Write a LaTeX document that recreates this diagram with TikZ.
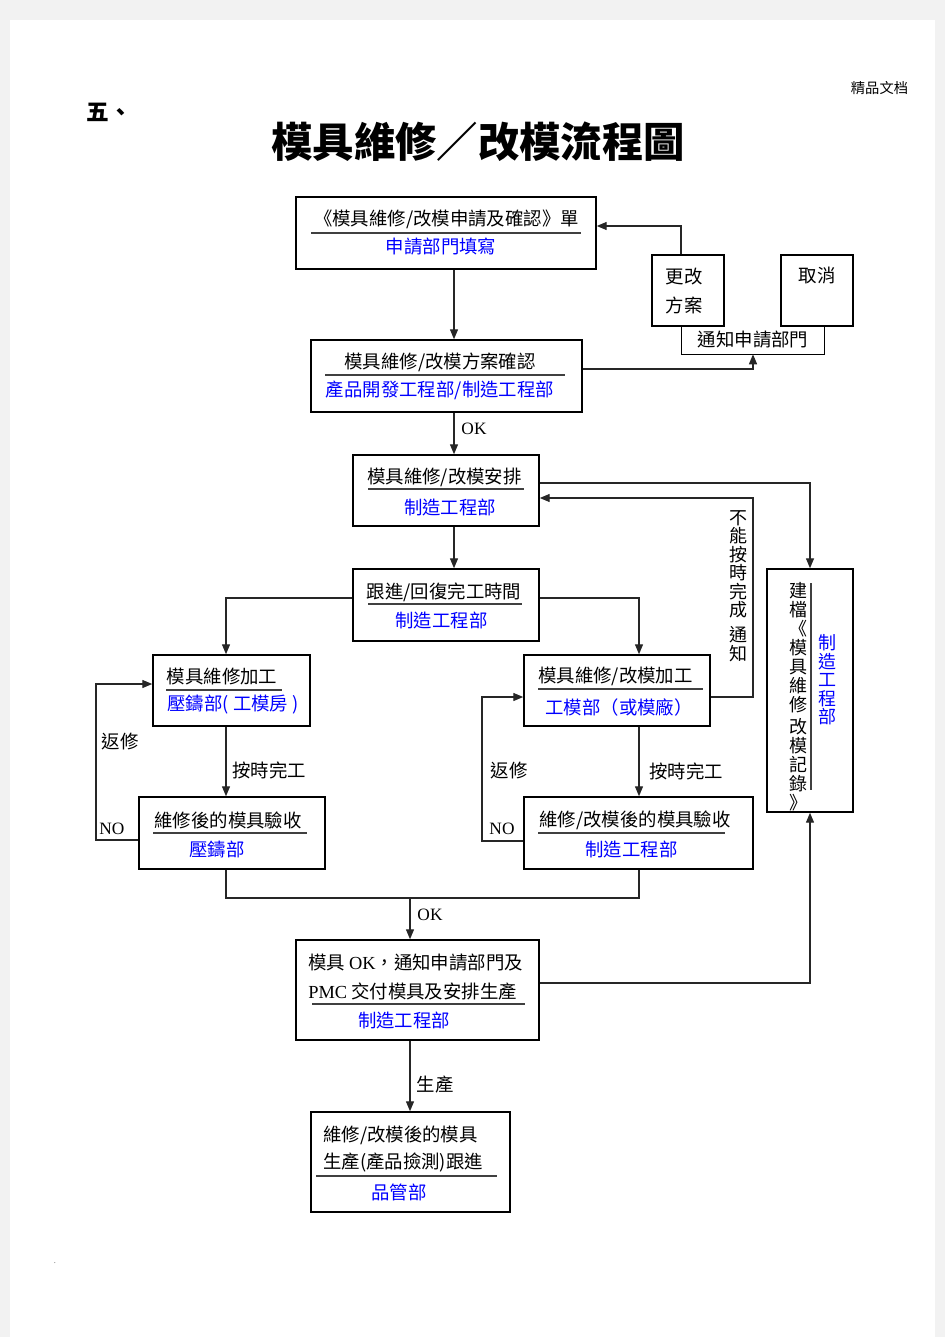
\documentclass[tikz,border=0pt]{standalone}
\usepackage{fontspec}
\setmainfont{Liberation Serif}
\newfontfamily\cjk{Noto Sans CJK TC}
\usetikzlibrary{arrows.meta}
\definecolor{deptblue}{RGB}{0,0,255}
\def\pu{0.75pt}
\tikzset{
	box/.style={draw=black, line width=1.1pt, inner sep=0pt},
	ttl/.style={font=\cjk\fontsize{13.8pt}{16pt}\selectfont, inner sep=0pt},
	dept/.style={ttl, text=deptblue},
	vtxt/.style={ttl, align=center},
	lbl/.style={font=\fontsize{13pt}{15pt}\selectfont, inner sep=0pt},
	uline/.style={draw=black!75, line width=0.9pt},
	conn/.style={draw=black!85, line width=1pt},
	arr/.style={conn, -{Triangle[length=7.5pt, width=6pt]}},
}

\begin{document}
\begin{tikzpicture}[x=0.75pt, y=-0.75pt]
			%%%%% START %%%%%
			\useasboundingbox (0,0) rectangle (945,1337);
			\fill[black!5] (0,0) rectangle (945,1337);
			\fill[white] (10,20) rectangle (935,1337);
			
			% header
			\node[inner sep=0pt, font=\cjk\fontsize{10.7pt}{12pt}\selectfont] (tag) at (879.5,88) {精品文档};
			\node[inner sep=0pt, font=\cjk\bfseries\fontsize{17pt}{19pt}\selectfont] (num) at (109,112) {五、};
			\node[inner sep=0pt, font=\cjk\bfseries\fontsize{31pt}{34pt}\selectfont] (title) at (478,142) {模具維修／改模流程圖};
			
			% boxes
			\node[box, minimum width=300*\pu, minimum height=72*\pu] (req) at (446,233) {};
			\node[box, minimum width=72*\pu, minimum height=71*\pu] (chg) at (688,290.5) {};
			\node[box, minimum width=72*\pu, minimum height=71*\pu] (cancel) at (817,290.5) {};
			\node[ttl, minimum width=142*\pu, minimum height=28*\pu] (notice) at (753,340) {通知申請部門};
			\node[box, minimum width=271*\pu, minimum height=72*\pu] (plan) at (446.5,376) {};
			\node[box, minimum width=186*\pu, minimum height=71*\pu] (arr) at (446,490.5) {};
			\node[box, minimum width=186*\pu, minimum height=72*\pu] (track) at (446,605) {};
			\node[box, minimum width=157*\pu, minimum height=71*\pu] (fixL) at (231.5,690.5) {};
			\node[box, minimum width=186*\pu, minimum height=71*\pu] (fixR) at (617,690.5) {};
			\node[box, minimum width=186*\pu, minimum height=72*\pu] (chkL) at (232,833) {};
			\node[box, minimum width=229*\pu, minimum height=72*\pu] (chkR) at (638.5,833) {};
			\node[box, minimum width=86*\pu, minimum height=243*\pu] (rec) at (810,690.5) {};
			\node[box, minimum width=243*\pu, minimum height=100*\pu] (done) at (417.5,990) {};
			\node[box, minimum width=199*\pu, minimum height=100*\pu] (prod) at (410.5,1162) {};
			\draw[box] (notice.north west) -- (notice.south west) -- (notice.south east) -- (notice.north east);
			
			% box texts
			\node[ttl] (reqT) at (446.5,219) {《模具維修/改模申請及確認》單};
			\node[dept] (reqD) at (441,247) {申請部門填寫};
			\draw[uline] (311,233) -- (581,233);
			
			\node[ttl] (chgA) at (684,277) {更改};
			\node[ttl] (chgB) at (684,305) {方案};
			\node[ttl] (cancelT) at (817,276) {取消};
			
			\node[ttl] (planT) at (440,362) {模具維修/改模方案確認};
			\node[dept] (planD) at (440,390) {產品開發工程部/制造工程部};
			\draw[uline] (325,375) -- (565,375);
			
			\node[ttl] (arrT) at (444.5,477) {模具維修/改模安排};
			\node[dept] (arrD) at (450,507) {制造工程部};
			\draw[uline] (368,489) -- (524,489);
			
			\node[ttl] (trackT) at (444,592) {跟進/回復完工時間};
			\node[dept] (trackD) at (441.5,620) {制造工程部};
			\draw[uline] (368,604) -- (522,604);
			
			\node[ttl] (fixLT) at (222,677) {模具維修加工};
			\node[dept] (fixLD) at (233,705) {壓鑄部( 工模房 )};
			\draw[uline] (166,690) -- (282,690);
			
			\node[ttl] (fixRT) at (615.5,676) {模具維修/改模加工};
			\node[dept] (fixRD) at (619,707) {工模部（或模廠）};
			\draw[uline] (538,689) -- (703,689);
			
			\node[ttl] (chkLT) at (228,820) {維修後的模具驗收};
			\node[dept] (chkLD) at (217,849) {壓鑄部};
			\draw[uline] (153,833) -- (307,833);
			
			\node[ttl] (chkRT) at (635,820) {維修/改模後的模具驗收};
			\node[dept] (chkRD) at (631.5,849) {制造工程部};
			\draw[uline] (538,833) -- (725,833);
			
			\node[vtxt, font=\cjk\fontsize{13.5pt}{14.25pt}\selectfont] (recT) at (798,697) {建\\檔\\《\\模\\具\\維\\修\\[2.25pt]改\\模\\記\\錄\\》};
			\node[vtxt, text=deptblue, font=\cjk\fontsize{13.5pt}{13.9pt}\selectfont] (recD) at (827,680) {制\\造\\工\\程\\部};
			\draw[uline] (811,583) -- (811,790);
			
			\node[ttl, anchor=west] (doneA) at (308,963) {模具 {\rmfamily OK}，通知申請部門及};
			\node[ttl, anchor=west] (doneB) at (308,992) {{\rmfamily PMC} 交付模具及安排生產};
			\node[dept] (doneD) at (404,1020) {制造工程部};
			\draw[uline] (312,1004) -- (525,1004);
			
			\node[ttl, anchor=west] (prodA) at (323,1135) {維修/改模後的模具};
			\node[ttl, anchor=west] (prodB) at (323,1162) {生產(產品撿測)跟進};
			\node[dept] (prodD) at (399,1192) {品管部};
			\draw[uline] (316,1176) -- (497,1176);
			
			% labels
			\node[lbl] (okA) at (474,429) {OK};
			\node[lbl] (okB) at (430,915) {OK};
			\node[lbl] (noL) at (112,829) {NO};
			\node[lbl] (noR) at (502,829) {NO};
			\node[ttl] (backL) at (120,742) {返修};
			\node[ttl] (backR) at (509,771) {返修};
			\node[ttl] (ontimeL) at (269,770) {按時完工};
			\node[ttl] (ontimeR) at (686,771) {按時完工};
			\node[ttl] (make) at (435,1085) {生產};
			\node[vtxt, font=\cjk\fontsize{13.5pt}{13.9pt}\selectfont] (late) at (738,586) {不\\能\\按\\時\\完\\成\\[5pt]通\\知};
			\node[inner sep=0pt, font=\tiny] (dot) at (55,1263) {.};
			
			% columns and rows of the connectors
			\coordinate (colA) at (454,0);
			\coordinate (colL) at (226,0);
			\coordinate (colR) at (639,0);
			\coordinate (colM) at (410,0);
			\coordinate (colC) at (681,0);
			\coordinate (colFB) at (753,0);
			\coordinate (loopL) at (96,0);
			\coordinate (loopR) at (482,0);
			\coordinate (rowR) at (0,226);
			\coordinate (rowP) at (0,369);
			\coordinate (rowA) at (0,483);
			\coordinate (rowB) at (0,498);
			\coordinate (rowT) at (0,598);
			\coordinate (rowUL) at (0,684);
			\coordinate (rowF) at (0,697);
			\coordinate (rowUR) at (0,697);
			\coordinate (rowNL) at (0,840);
			\coordinate (rowNR) at (0,841);
			\coordinate (rowM) at (0,898);
			\coordinate (rowD) at (0,983);
			
			% connectors
			\draw[arr] (req.south -| colA) -- (plan.north -| colA);
			\draw[arr] (chg.north -| colC) |- (req.east |- rowR);
			\draw[arr] (plan.east |- rowP) -| (notice.south);
			\draw[arr] (plan.south -| colA) -- (arr.north -| colA);
			\draw[arr] (arr.south -| colA) -- (track.north -| colA);
			\draw[arr] (arr.east |- rowA) -| (rec.north);
			\draw[arr] (fixR.east |- rowF) -| (colFB |- rowB) -- (arr.east |- rowB);
			\draw[arr] (track.west |- rowT) -| (fixL.north -| colL);
			\draw[arr] (track.east |- rowT) -| (fixR.north -| colR);
			\draw[arr] (fixL.south -| colL) -- (chkL.north -| colL);
			\draw[arr] (fixR.south -| colR) -- (chkR.north -| colR);
			\draw[arr] (chkL.west |- rowNL) -| (loopL |- rowUL) -- (fixL.west |- rowUL);
			\draw[arr] (chkR.west |- rowNR) -| (loopR |- rowUR) -- (fixR.west |- rowUR);
			\draw[conn] (chkL.south -| colL) -- (colL |- rowM) -- (colR |- rowM) -- (chkR.south -| colR);
			\draw[arr] (colM |- rowM) -- (done.north -| colM);
			\draw[arr] (done.east |- rowD) -| (rec.south);
			\draw[arr] (done.south -| colM) -- (prod.north -| colM);
			%%%%% END %%%%%
\end{tikzpicture}
\end{document}
